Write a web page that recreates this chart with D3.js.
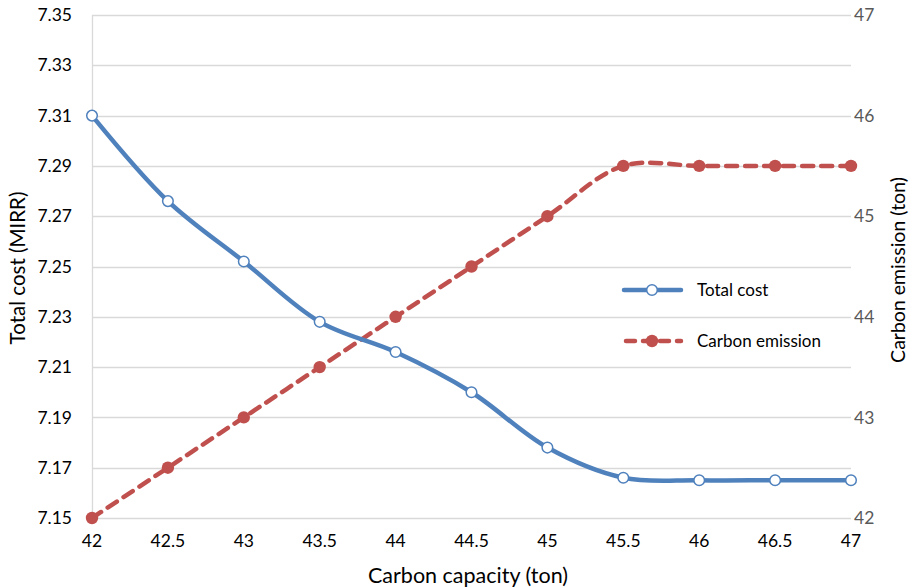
<!DOCTYPE html>
<html><head><meta charset="utf-8">
<script src="https://cdn.jsdelivr.net/npm/d3@7"></script>
<style>body{margin:0;background:#fff;} svg{display:block;font-family:Lato,"Open Sans",sans-serif;}</style>
</head><body>
<svg id="c" width="911" height="587"></svg>
<script>
const capacity = [42, 42.5, 43, 43.5, 44, 44.5, 45, 45.5, 46, 46.5, 47];
const totalCost = [7.31, 7.276, 7.252, 7.228, 7.216, 7.200, 7.178, 7.166, 7.165, 7.165, 7.165];
const carbonEmission = [42, 42.5, 43, 43.5, 44, 44.5, 45, 45.5, 45.5, 45.5, 45.5];
const leftTicks = [7.15, 7.17, 7.19, 7.21, 7.23, 7.25, 7.27, 7.29, 7.31, 7.33, 7.35];
const rightTicks = [42, 43, 44, 45, 46, 47];
const xTicks = [42, 42.5, 43, 43.5, 44, 44.5, 45, 45.5, 46, 46.5, 47];
const seriesNames = ["Total cost", "Carbon emission"];

const svg = d3.select("#c");
const L = 92, R = 851, T = 15, B = 518;
const x = d3.scaleLinear().domain([42, 47]).range([L, R]);
const yL = d3.scaleLinear().domain([7.15, 7.35]).range([B, T]);
const yR = d3.scaleLinear().domain([42, 47]).range([B, T]);

// gridlines
svg.append("g").selectAll("line").data(leftTicks).join("line")
  .attr("x1", L).attr("x2", R)
  .attr("y1", d => Math.round(yL(d)) + 0.5).attr("y2", d => Math.round(yL(d)) + 0.5)
  .attr("stroke", "#d9d9d9").attr("stroke-width", 1.3);
svg.append("line").attr("x1", L + 0.5).attr("x2", L + 0.5).attr("y1", T).attr("y2", B)
  .attr("stroke", "#d9d9d9").attr("stroke-width", 1.3);

// left ticks
svg.append("g").selectAll("text").data(leftTicks).join("text")
  .attr("x", 72).attr("y", d => yL(d)).attr("dy", "0.35em")
  .attr("text-anchor", "end").attr("font-size", 17.5).attr("fill", "#000")
  .text(d => d.toFixed(2));
// right ticks
svg.append("g").selectAll("text").data(rightTicks).join("text")
  .attr("x", 854).attr("y", d => yR(d)).attr("dy", "0.35em")
  .attr("text-anchor", "start").attr("font-size", 17.5).attr("fill", "#595959")
  .text(d => d);
// x ticks
svg.append("g").selectAll("text").data(xTicks).join("text")
  .attr("x", d => x(d)).attr("y", 541).attr("dy", "0.35em")
  .attr("text-anchor", "middle").attr("font-size", 17.5).attr("fill", "#000")
  .text(d => d);

// axis titles
svg.append("text").attr("x", 468).attr("y", 575).attr("dy", "0.35em")
  .attr("text-anchor", "middle").attr("font-size", 21.5).text("Carbon capacity (ton)");
svg.append("text").attr("transform", "translate(18,268) rotate(-90)").attr("dy", "0.35em")
  .attr("text-anchor", "middle").attr("font-size", 20.5).text("Total cost (MIRR)");
svg.append("text").attr("transform", "translate(898,270) rotate(-90)").attr("dy", "0.35em")
  .attr("text-anchor", "middle").attr("font-size", 19.5).text("Carbon emission (ton)");

const blue = "#4f81bd", red = "#c0504d";
const curve = d3.curveCatmullRom.alpha(0.5);

// carbon emission (red dashed)
const lineR = d3.line().x((d, i) => x(capacity[i])).y(d => yR(d)).curve(curve);
svg.append("path").datum(carbonEmission).attr("d", lineR)
  .attr("fill", "none").attr("stroke", red).attr("stroke-width", 4.5)
  .attr("stroke-dasharray", "11,8").attr("stroke-linecap", "round");
svg.append("g").selectAll("circle").data(carbonEmission).join("circle")
  .attr("cx", (d, i) => x(capacity[i])).attr("cy", d => yR(d)).attr("r", 6.2)
  .attr("fill", red);

// total cost (blue)
const lineL = d3.line().x((d, i) => x(capacity[i])).y(d => yL(d)).curve(curve);
svg.append("path").datum(totalCost).attr("d", lineL)
  .attr("fill", "none").attr("stroke", blue).attr("stroke-width", 4.5);
svg.append("g").selectAll("circle").data(totalCost).join("circle")
  .attr("cx", (d, i) => x(capacity[i])).attr("cy", d => yL(d)).attr("r", 5.3)
  .attr("fill", "#fff").attr("stroke", blue).attr("stroke-width", 1.5);

// legend
const lg = svg.append("g");
lg.append("line").attr("x1", 624).attr("x2", 681).attr("y1", 290).attr("y2", 290)
  .attr("stroke", blue).attr("stroke-width", 4.5).attr("stroke-linecap", "round");
lg.append("circle").attr("cx", 652).attr("cy", 290).attr("r", 5.3)
  .attr("fill", "#fff").attr("stroke", blue).attr("stroke-width", 1.5);
lg.append("text").attr("x", 697).attr("y", 290).attr("dy", "0.35em").attr("font-size", 17).text(seriesNames[0]);
lg.append("line").attr("x1", 626).attr("x2", 681).attr("y1", 341).attr("y2", 341)
  .attr("stroke", red).attr("stroke-width", 4.5).attr("stroke-dasharray", "9,8").attr("stroke-linecap", "round");
lg.append("circle").attr("cx", 652).attr("cy", 341).attr("r", 6.2).attr("fill", red);
lg.append("text").attr("x", 697).attr("y", 341).attr("dy", "0.35em").attr("font-size", 17).text(seriesNames[1]);
</script>
</body></html>
